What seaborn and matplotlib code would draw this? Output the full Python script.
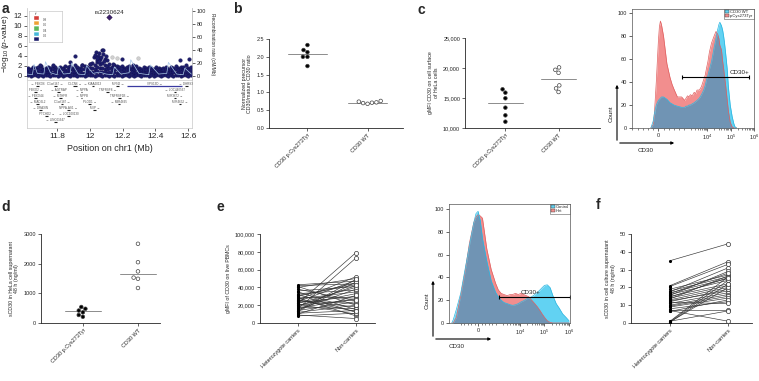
import numpy as np
import pandas as pd
import matplotlib
matplotlib.use("Agg")
import matplotlib.pyplot as plt
import matplotlib.ticker as mticker
from matplotlib.patches import Patch, FancyArrowPatch
import seaborn as sns

W, H = 759, 381

# ---- a: regional association plot around rs2230624 ----
band_pos = [11.625, 11.640, 11.655, 11.670, 11.685, 11.700, 11.715, 11.730, 11.745, 11.760,
            11.775, 11.790, 11.805, 11.820, 11.835, 11.850, 11.865, 11.880, 11.895, 11.910,
            11.925, 11.940, 11.955, 11.970, 11.985, 12.000, 12.015, 12.030, 12.045, 12.060,
            12.075, 12.090, 12.105, 12.120, 12.135, 12.150, 12.165, 12.180, 12.195, 12.210,
            12.225, 12.240, 12.255, 12.270, 12.285, 12.300, 12.315, 12.330, 12.345, 12.360,
            12.375, 12.390, 12.405, 12.420, 12.435, 12.450, 12.465, 12.480, 12.495, 12.510,
            12.525, 12.540, 12.555, 12.570, 12.585, 12.600, 12.615]
band_top = [1.7, 1.5, 1.9, 1.6, 1.8, 2.1, 1.4, 1.7, 1.9, 1.6,
            2.0, 1.8, 1.5, 1.9, 1.7, 2.0, 1.8, 2.1, 1.6, 2.2,
            1.9, 1.7, 2.3, 2.0, 1.8, 2.4, 2.6, 2.2, 2.8, 2.5,
            2.7, 2.3, 2.1, 2.4, 1.9, 2.2, 2.0, 1.8, 2.1, 1.7,
            1.9, 2.0, 1.6, 1.8, 2.1, 1.7, 1.5, 1.8, 1.6, 1.9,
            1.7, 1.5, 1.8, 1.6, 1.4, 1.7, 1.9, 1.5, 1.8, 1.6,
            2.0, 1.7, 1.9, 1.8, 2.2, 1.6, 1.9]
band_upper = [1.2, 1.3, 1.1, 1.3, 1.2, 1.4, 1.2, 1.3, 1.1, 1.3,
              1.4, 1.2, 1.3, 1.2, 1.4, 1.3, 1.2, 1.4, 1.3, 1.5,
              1.3, 1.2, 1.5, 1.4, 1.3, 1.6, 1.7, 1.5, 1.8, 1.6,
              1.7, 1.5, 1.4, 1.6, 1.3, 1.5, 1.4, 1.3, 1.4, 1.2,
              1.3, 1.4, 1.2, 1.3, 1.4, 1.2, 1.1, 1.3, 1.2, 1.3,
              1.2, 1.1, 1.3, 1.2, 1.1, 1.2, 1.3, 1.1, 1.3, 1.2,
              1.4, 1.2, 1.3, 1.3, 1.5, 1.2, 1.3]
band_mid = [0.7, 0.6, 0.8, 0.7, 0.6, 0.8, 0.7, 0.6, 0.7, 0.8,
            0.6, 0.7, 0.8, 0.6, 0.7, 0.8, 0.7, 0.6, 0.8, 0.7,
            0.7, 0.8, 0.6, 0.7, 0.8, 0.9, 0.8, 0.9, 1.0, 0.9,
            0.8, 0.9, 0.7, 0.8, 0.7, 0.8, 0.6, 0.7, 0.8, 0.7,
            0.6, 0.7, 0.8, 0.6, 0.7, 0.8, 0.6, 0.7, 0.6, 0.8,
            0.7, 0.6, 0.7, 0.8, 0.6, 0.7, 0.8, 0.6, 0.7, 0.8,
            0.7, 0.6, 0.8, 0.7, 0.8, 0.6, 0.7]
band_low = [0.2, 0.1, 0.2, 0.3, 0.1, 0.2, 0.1, 0.3, 0.2, 0.1,
            0.2, 0.3, 0.1, 0.2, 0.1, 0.3, 0.2, 0.1, 0.2, 0.3,
            0.1, 0.2, 0.3, 0.1, 0.2, 0.3, 0.2, 0.1, 0.3, 0.2,
            0.1, 0.2, 0.3, 0.1, 0.2, 0.1, 0.3, 0.2, 0.1, 0.2,
            0.3, 0.1, 0.2, 0.1, 0.3, 0.2, 0.1, 0.2, 0.3, 0.1,
            0.2, 0.1, 0.3, 0.2, 0.1, 0.2, 0.3, 0.1, 0.2, 0.1,
            0.3, 0.2, 0.1, 0.2, 0.3, 0.1, 0.2]
hit_pos = [11.696, 11.777, 11.88, 11.91, 11.95, 12.0, 12.026, 12.038, 12.042, 12.058,
           12.063, 12.073, 12.083, 12.093, 12.107, 12.144, 12.195, 12.266, 12.551, 12.608,
           12.03, 12.05, 12.068, 12.078, 12.088, 12.1, 12.055, 12.045]
hit_logp = [2.3, 2.3, 2.9, 4.06, 2.2, 2.5, 3.9, 4.9, 3.2, 4.7,
            3.5, 5.2, 5.2, 3.5, 3.2, 2.5, 3.5, 2.2, 3.2, 3.5,
            4.3, 4.1, 3.9, 4.5, 3.0, 4.0, 3.0, 3.7]
grey_pos = [12.134, 12.165, 12.297]
grey_logp = [3.9, 3.7, 3.7]
lead_pos = [12.118]
lead_logp = [11.8]
recomb_pos = [11.62, 11.65, 11.66, 11.68, 11.72, 11.73, 11.76, 11.80, 11.81, 11.84, 11.88,
              11.89, 11.93, 11.97, 11.98, 12.02, 12.06, 12.10, 12.14, 12.15, 12.19, 12.24,
              12.25, 12.30, 12.36, 12.37, 12.42, 12.47, 12.48, 12.53, 12.57, 12.58, 12.62]
recomb_rate = [3, 2, 18, 4, 3, 22, 5, 2, 15, 3, 4, 20, 3, 2, 16, 4, 6, 3, 2, 14, 3, 5,
               25, 4, 2, 17, 3, 4, 21, 3, 2, 12, 3]
r2_colors = ["#1c1c6b", "#46b8da", "#5cb85c", "#eea236", "#d43f3a"]
r2_labels = ["0.2", "0.4", "0.6", "0.8"]

gene_names = ["FBXO6", "C1orf167", "CLCN6", "KIAA2013", "MFN2", "VPS13D", "DHRS3",
              "FBXO2", "AGTRAP", "NPPA", "TNFRSF8", "LOC440567",
              "FBXO44", "MTHFR", "NPPB", "TNFRSF1B", "MIR3672",
              "MAD2L2", "C1orf187", "PLOD1", "MIR4695", "MIR4632",
              "DRAXIN", "NPPA-AS1", "MIIP",
              "PTCHD2", "LOC100130",
              "LINC01647"]
gene_start = [11.672, 11.782, 11.900, 12.012, 12.160, 12.230, 12.580,
              11.662, 11.802, 11.945, 12.100, 12.512,
              11.662, 11.812, 11.945, 12.170, 12.515,
              11.672, 11.822, 11.990, 12.175, 12.545,
              11.692, 11.862, 12.022,
              11.727, 11.862,
              11.782]
gene_end = [11.688, 11.798, 11.920, 12.028, 12.180, 12.560, 12.600,
            11.678, 11.818, 11.955, 12.120, 12.528,
            11.678, 11.828, 11.955, 12.190, 12.525,
            11.688, 11.838, 12.010, 12.185, 12.555,
            11.708, 11.878, 12.038,
            11.743, 11.878,
            11.798]
gene_row = [0, 0, 0, 0, 0, 0, 0,
            1, 1, 1, 1, 1,
            2, 2, 2, 2, 2,
            3, 3, 3, 3, 3,
            4, 4, 4,
            5, 5,
            6]
gene_strand = ["-", "+", "+", "-", "+", "+", "-",
               "+", "-", "-", "+", "-",
               "-", "-", "-", "+", "+",
               "-", "+", "+", "-", "+",
               "-", "+", "+",
               "+", "-",
               "-"]

# ---- b, c, d: HeLa transfectants ----
hela_groups = ["CD30 p.Cys273Tyr", "CD30 WT"]
b_mut = [2.33, 2.19, 2.13, 2.0, 2.0, 1.74]
b_wt = [0.76, 0.70, 0.72, 0.68, 0.74, 0.71]
c_mut = [16450, 15890, 14950, 13390, 12110, 11050]
c_wt = [20100, 19700, 19200, 17100, 16600, 16000]
d_mut = [480, 360, 420, 540, 270, 210]
d_wt = [2670, 2050, 1740, 1530, 1490, 1180]

# ---- flow histograms (c right, e right) ----
c_flow_x = [-290, -200, -160, -80, 0, 40, 80, 120, 200, 330,
            450, 530, 600, 735, 900, 1050, 1200, 1390, 1600, 1840,
            2200, 2680, 3100, 3560, 4500, 5500, 6870, 8000, 9100, 10500,
            12100, 15000, 19300, 23300, 27000, 30900, 34000, 40000, 45000, 49400,
            54000, 59700, 70000, 79100, 95000, 115000, 135000, 153000, 180000]
c_flow_mut = [0, 3, 10, 40, 75, 88, 93, 90, 80, 56,
              44, 38, 34, 27, 27, 24, 26, 28, 27, 29,
              28, 31, 30, 33, 33, 36, 42, 46, 52, 58,
              66, 74, 80, 84, 82, 78, 72, 68, 58, 52,
              45, 38, 25, 15, 5, 1, 0, 0, 0]
c_flow_wt = [0, 6, 12, 20, 24, 25, 26, 27, 27, 25,
             22, 21, 20, 19, 18, 18, 19, 19, 20, 20,
             21, 22, 23, 24, 26, 29, 33, 37, 42, 46,
             51, 58, 70, 78, 85, 90, 92, 89, 85, 80,
             74, 66, 52, 36, 20, 10, 4, 1, 0]
e_flow_x = [-2300, -2000, -1500, -1000, -750, -500, -250, -120, 0, 120,
            250, 500, 750, 1000, 1300, 1700, 2200, 3000, 4000, 5000,
            6500, 8500, 11000, 14000, 18000, 23000, 30000, 40000, 52000, 65000,
            80000, 100000, 130000, 170000, 220000, 300000, 400000, 550000, 750000, 1000000]
e_flow_ctrl = [0, 3, 12, 26, 47, 68, 88, 96, 98, 90,
               74, 54, 37, 27, 23, 20, 18, 17, 16, 15.5,
               16, 17, 18.5, 19.5, 21, 22, 23, 25, 27, 29,
               31, 33, 33.5, 31, 24, 17, 13, 8, 5, 2]
e_flow_het = [0, 0, 5, 24, 45, 70, 88, 93, 95, 94,
              92, 65, 47, 35, 29, 26, 25, 24, 25, 25,
              26, 25, 26, 25, 24, 23, 20, 17, 14, 11,
              8, 5, 2, 0.5, 0, 0, 0, 0, 0, 0]

# ---- e, f: paired donors ----
pbmc_groups = ["Heterozygote carriers", "Non-carriers"]
e_het = [43, 42, 41, 40, 38, 36, 35, 33, 32, 30, 29, 28, 27, 26, 25, 25, 24, 23, 22, 21,
         20, 19, 18, 17, 16, 15, 14, 13, 12, 11, 10, 9, 8, 22, 14, 20, 26, 31]
e_non = [47, 44, 20, 50, 25, 41, 15, 37, 12, 45, 28, 8, 35, 52, 22, 18, 48, 30, 79, 10,
         33, 42, 16, 27, 73, 38, 24, 46, 20, 14, 31, 5, 11, 40, 49, 26, 13, 43]
f_het = [35, 21, 20.5, 19, 18, 17.5, 17, 16, 15.5, 15, 14, 13.5, 13, 12.5, 12, 11,
         10, 9.5, 9, 8, 7.5, 7, 6.5, 1, 0.8, 0.6, 0.5, 1.0, 14.5, 16.5, 11.5]
f_non = [44.5, 34.5, 33, 27, 26, 31, 25, 24, 29, 22, 21, 26.5, 20, 18, 19, 17,
         16, 15, 14, 12, 7.5, 1, 13, 26, 24, 20, 22, 6.8, 25.5, 28, 11]

NAVY = "#1c1c6b"
RED_FILL, RED_EDGE = "#f28e8e", "#e06060"
CYAN_FILL, CYAN_EDGE = "#62d2f2", "#2bb5e0"
OVERLAP = "#7094b4"
FS = 4

sns.set_theme(style="ticks")
plt.rcParams["font.family"] = ["Liberation Sans", "DejaVu Sans"]
plt.rcParams["mathtext.fontset"] = "custom"
plt.rcParams["mathtext.rm"] = "Liberation Sans"
plt.rcParams["mathtext.it"] = "Liberation Sans:italic"
plt.rcParams["axes.linewidth"] = 0.6

fig = plt.figure(figsize=(W / 100, H / 100), dpi=100)


def box(x0, y0, x1, y1):
    return fig.add_axes([x0 / W, 1 - y1 / H, (x1 - x0) / W, (y1 - y0) / H])


def small_ticks(ax, size=FS):
    ax.tick_params(length=2, width=0.5, pad=1.5, labelsize=size)


def fig_arrow(x0, y0, x1, y1):
    fig.add_artist(FancyArrowPatch((x0 / W, 1 - y0 / H), (x1 / W, 1 - y1 / H),
                                   transform=fig.transFigure, arrowstyle="-|>",
                                   mutation_scale=4, lw=0.8, color="black"))


def panel_letter(x, y, s):
    fig.text(x / W, 1 - y / H, s, fontsize=10, fontweight="bold", ha="left", va="top")


# ---------------- panel a ----------------
ax_a = box(27, 8, 192, 80)
band_df = pd.DataFrame({"pos": band_pos * 4,
                        "logp": band_top + band_upper + band_mid + band_low})
sns.scatterplot(data=band_df, x="pos", y="logp", color=NAVY, s=7,
                edgecolor="#0d0d45", linewidth=0.2, ax=ax_a, zorder=3)
sns.scatterplot(x=hit_pos, y=hit_logp, color=NAVY, s=7, edgecolor="#0d0d45",
                linewidth=0.2, ax=ax_a, zorder=3)
sns.scatterplot(x=grey_pos, y=grey_logp, color="#cfcfcf", s=7, edgecolor="#999999",
                linewidth=0.2, ax=ax_a, zorder=3)
sns.scatterplot(x=lead_pos, y=lead_logp, color="#3b1f6e", marker="D", s=8,
                edgecolor="#20103a", linewidth=0.3, ax=ax_a, zorder=4)
ax_a.text(lead_pos[0], lead_logp[0] + 0.5, "rs2230624", ha="center", va="bottom", fontsize=4.5)
ax_a.set_xlim(11.617, 12.624)
ax_a.set_ylim(-0.8, 13.6)
ax_a.set_yticks(range(0, 13, 2))
ax_a.set_xticks([])
ax_a.set_xlabel("")
ax_a.set_ylabel(r"$-\log_{10}$($p$-value)", fontsize=6, labelpad=2)
small_ticks(ax_a, 5.5)
for side in ["top", "bottom"]:
    ax_a.spines[side].set_visible(False)
for side in ["left", "right"]:
    ax_a.spines[side].set_color("#c0c0c0")
    ax_a.spines[side].set_linewidth(0.5)

ax_r = ax_a.twinx()
sns.lineplot(x=recomb_pos, y=recomb_rate, color="#a9c8e6", lw=0.5, ax=ax_r)
ax_r.set_ylim(-6.15, 104.6)
ax_r.set_yticks(range(0, 101, 20))
ax_r.set_ylabel("Recombination rate (cM/Mb)", fontsize=3.5, rotation=270, labelpad=6)
small_ticks(ax_r, 4)
for side in ["top", "bottom", "left"]:
    ax_r.spines[side].set_visible(False)
ax_r.spines["right"].set_color("#c0c0c0")
ax_r.spines["right"].set_linewidth(0.5)

# r2 key
ax_key = box(29, 11, 62, 42)
for i, col in enumerate(r2_colors):
    ax_key.bar(0.22, 1, bottom=i + 0.2, width=0.18, color=col)
for i, lab in enumerate(r2_labels):
    ax_key.text(0.42, i + 1.2, lab, fontsize=2.2, va="center", color="#444444")
ax_key.text(0.22, 5.5, "r²", fontsize=2.5, ha="center", va="center")
ax_key.set_xlim(0, 1)
ax_key.set_ylim(0, 6.0)
ax_key.set_xticks([])
ax_key.set_yticks([])
for sp in ax_key.spines.values():
    sp.set_color("#bbbbbb")
    sp.set_linewidth(0.4)

# gene track
ax_g = box(27, 80, 192, 128)
for name, s, e, r, st in zip(gene_names, gene_start, gene_end, gene_row, gene_strand):
    long_gene = (e - s) > 0.1
    ax_g.plot([s, e], [r + 0.38, r + 0.38], color="#3a3aa0" if long_gene else "#222222",
              lw=0.9 if long_gene else 0.8, solid_capstyle="butt")
    label = f"{name} →" if st == "+" else f"← {name}"
    ax_g.text((s + e) / 2, r, label, fontsize=2.2, ha="center", va="center", color="#555555")
ax_g.set_xlim(11.617, 12.624)
ax_g.set_ylim(7.33, -0.67)
ax_g.set_yticks([])
ax_g.set_xticks([11.8, 12.0, 12.2, 12.4, 12.6])
ax_g.set_xticklabels(["11.8", "12", "12.2", "12.4", "12.6"])
small_ticks(ax_g, 6)
ax_g.set_xlabel("Position on chr1 (Mb)", fontsize=6.5, labelpad=3)
for sp in ax_g.spines.values():
    sp.set_color("#c8c8c8")
    sp.set_linewidth(0.5)


# ---------------- b, c, d dot plots ----------------
def dot_panel(ax, mut, wt, ylim, yticks, fmt, ylabel, xlim, labelpad=3):
    df = pd.DataFrame({"group": [hela_groups[0]] * len(mut) + [hela_groups[1]] * len(wt),
                       "value": mut + wt})
    sns.swarmplot(data=df, x="group", y="value", hue="group", order=hela_groups,
                  palette=["black", "white"], size=2.6, edgecolor="#444444",
                  linewidth=0.5, legend=False, ax=ax, zorder=3)
    for i, grp in enumerate(hela_groups):
        med = np.median(df.loc[df.group == grp, "value"])
        ax.plot([i - 0.33, i + 0.33], [med, med], color="#8c8c8c", lw=0.7, zorder=1)
    ax.set_xlim(*xlim)
    ax.set_ylim(*ylim)
    ax.set_yticks(yticks)
    ax.yaxis.set_major_formatter(mticker.StrMethodFormatter(fmt))
    ax.set_xticks([0, 1])
    ax.set_xticklabels(hela_groups, rotation=45, ha="right", rotation_mode="anchor")
    ax.set_xlabel("")
    ax.set_ylabel(ylabel, fontsize=3.8, labelpad=labelpad, linespacing=1.1)
    small_ticks(ax)
    sns.despine(ax=ax)


ax_b = box(269, 39, 403, 128)
dot_panel(ax_b, b_mut, b_wt, (0, 2.5), [0, 0.5, 1.0, 1.5, 2.0, 2.5], "{x:.1f}",
          "Normalized precursor\nCD30/mature CD30 ratio", (-0.64, 1.59))
ax_c = box(465, 38, 600, 128)
dot_panel(ax_c, c_mut, c_wt, (10000, 25000), [10000, 15000, 20000, 25000], "{x:,.0f}",
          "gMFI CD30 on cell surface\nof HeLa cells", (-0.76, 1.78))
ax_d = box(41, 234, 160, 323)
dot_panel(ax_d, d_mut, d_wt, (0, 3000), [0, 1000, 2000, 3000], "{x:.0f}",
          "sCD30 in HeLa cell supernatant\n48 h (ng/ml)", (-0.76, 1.4))


# ---------------- flow histograms ----------------
def flow_panel(ax, x, back, front, linscale, xlim, ylim, gate, gate_y, text_x, text_y, labels):
    back = np.array(back, dtype=float)
    front = np.array(front, dtype=float)
    ax.set_xscale("symlog", linthresh=1000, linscale=linscale)
    ax.fill_between(x, back, color=RED_FILL, lw=0)
    ax.fill_between(x, front, color=CYAN_FILL, lw=0)
    ax.fill_between(x, np.minimum(back, front), color=OVERLAP, lw=0)
    sns.lineplot(x=x, y=back, color=RED_EDGE, lw=0.5, ax=ax)
    sns.lineplot(x=x, y=front, color=CYAN_EDGE, lw=0.5, ax=ax)
    ax.plot(gate, [gate_y, gate_y], color="black", lw=0.8, marker="|", ms=3, mew=0.8)
    ax.text(text_x, text_y, "CD30+", fontsize=4.5, ha="center", va="bottom")
    ax.set_xlim(*xlim)
    ax.set_ylim(*ylim)
    ax.set_xticks([0, 1e4, 1e5, 1e6])
    ax.set_xticklabels(["0", "$10^4$", "$10^5$", "$10^6$"])
    minor = ([-1000, -800, -600, -400, -200, 200, 400, 600, 800, 1000]
             + [k * 10 ** p for p in (3, 4, 5) for k in range(2, 10)])
    ax.xaxis.set_minor_locator(mticker.FixedLocator(minor))
    ax.set_yticks([0, 20, 40, 60, 80, 100])
    ax.tick_params(which="minor", length=1.2, width=0.4)
    small_ticks(ax)
    ax.set_xlabel("")
    ax.set_ylabel("")
    for sp in ax.spines.values():
        sp.set_color("#555555")
        sp.set_linewidth(0.5)
    handles = [Patch(facecolor=CYAN_FILL, edgecolor="#333333", lw=0.3),
               Patch(facecolor=RED_FILL, edgecolor="#333333", lw=0.3)]
    leg = ax.legend(handles, labels, loc="upper right", fontsize=3, frameon=True,
                    fancybox=False, edgecolor="#333333", borderpad=0.2, handlelength=0.9,
                    handleheight=0.8, handletextpad=0.3, labelspacing=0.1, borderaxespad=0)
    leg.get_frame().set_linewidth(0.4)


ax_ch = box(632, 9, 754, 128)
flow_panel(ax_ch, c_flow_x, c_flow_mut, c_flow_wt, 1.0, (-1050, 1e6), (0, 103.5),
           [900, 630000], 44, 2.5e5, 46, ["CD30 WT", "p.Cys273Tyr"])
fig_arrow(617, 143, 617, 82)
fig_arrow(617, 143, 677, 143)
fig.text(611 / W, 1 - 114 / H, "Count", fontsize=4.5, rotation=90, ha="center", va="center")
fig.text(646 / W, 1 - 150 / H, "CD30", fontsize=4.5, ha="center", va="center")

ax_eh = box(449, 204, 570, 323)
flow_panel(ax_eh, e_flow_x, e_flow_het, e_flow_ctrl, 0.64, (-3000, 1.1e6), (0, 104.4),
           [1445, 1.05e6], 23, 27500, 25, ["Control", "Het"])
fig_arrow(433, 339, 433, 278)
fig_arrow(433, 339, 494, 339)
fig.text(427 / W, 1 - 301 / H, "Count", fontsize=4.5, rotation=90, ha="center", va="center")
fig.text(457 / W, 1 - 346 / H, "CD30", fontsize=4.5, ha="center", va="center")


# ---------------- e, f paired plots ----------------
def paired_panel(ax, het, non, ylim, yticks, fmt, ylabel, xlim, labelpad=3):
    n = len(het)
    pair_df = pd.DataFrame({"pair": list(range(n)) * 2, "x": [0] * n + [1] * n,
                            "value": het + non})
    sns.lineplot(data=pair_df, x="x", y="value", units="pair", estimator=None,
                 color="#333333", lw=0.45, ax=ax)
    sns.scatterplot(x=[0] * n, y=het, color="black", s=5, linewidth=0, ax=ax, zorder=3,
                    clip_on=False)
    sns.scatterplot(x=[1] * n, y=non, color="white", edgecolor="#333333", s=9,
                    linewidth=0.5, ax=ax, zorder=3, clip_on=False)
    ax.set_xlim(*xlim)
    ax.set_ylim(*ylim)
    ax.set_yticks(yticks)
    ax.yaxis.set_major_formatter(mticker.StrMethodFormatter(fmt))
    ax.set_xticks([0, 1])
    ax.set_xticklabels(pbmc_groups, rotation=45, ha="right", rotation_mode="anchor")
    ax.set_xlabel("")
    ax.set_ylabel(ylabel, fontsize=3.8, labelpad=labelpad, linespacing=1.1)
    small_ticks(ax)
    sns.despine(ax=ax)


ax_e = box(260, 234, 375, 323)
paired_panel(ax_e, [v * 1000 for v in e_het], [v * 1000 for v in e_non], (0, 100000),
             [0, 20000, 40000, 60000, 80000, 100000], "{x:,.0f}",
             "gMFI of CD30 on live PBMCs", (-0.655, 1.33))
ax_f = box(631, 234, 752, 323)
paired_panel(ax_f, f_het, f_non, (0, 50), [0, 10, 20, 30, 40, 50], "{x:.0f}",
             "sCD30 in cell culture supernatant\n48 h (ng/ml)", (-0.67, 1.41))

panel_letter(2, 2, "a")
panel_letter(233, 2, "b")
panel_letter(418, 3, "c")
panel_letter(1, 200, "d")
panel_letter(217, 200, "e")
panel_letter(596, 198, "f")

fig.savefig("out.png", dpi=100, facecolor="white")
